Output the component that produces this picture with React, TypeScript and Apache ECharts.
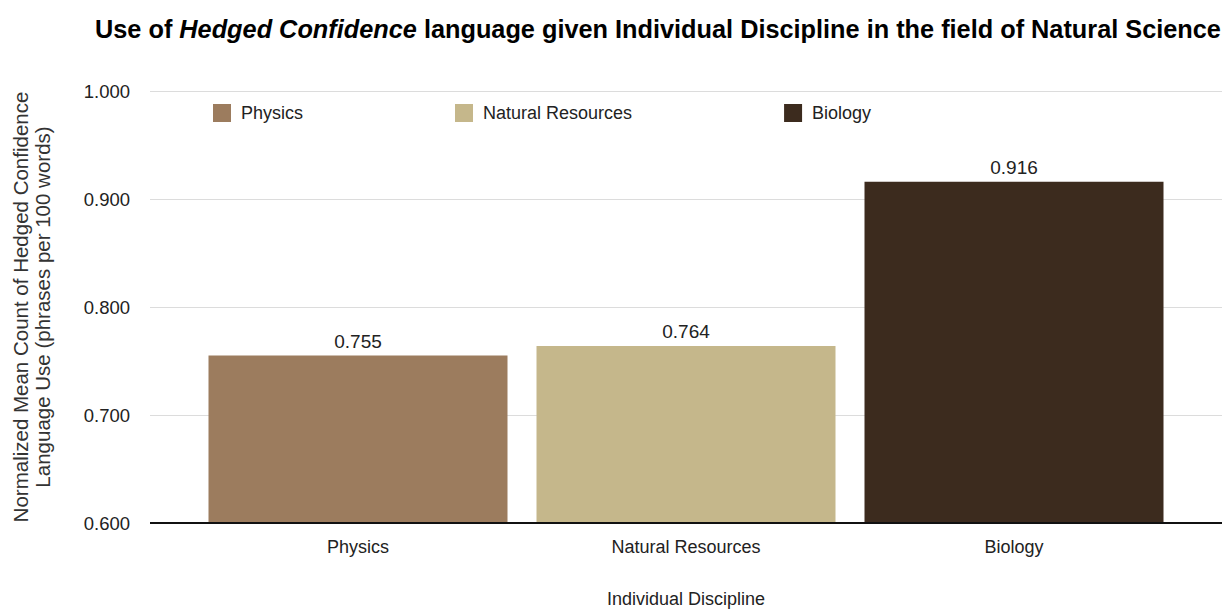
import React, { useEffect, useRef } from "react";
import * as echarts from "echarts";

const categories = ["Physics", "Natural Resources", "Biology"];
const values = [0.755, 0.764, 0.916];
const colors = ["#9C7C5E", "#C5B78B", "#3C2B1E"];

export default function App() {
  const ref = useRef<HTMLDivElement>(null);
  useEffect(() => {
    if (!ref.current) return;
    const chart = echarts.init(ref.current, null, { renderer: "svg" });
    const font = "Liberation Sans, Arial, sans-serif";
    const series = categories.map((c, i) => ({
      name: c,
      type: "bar",
      xAxisIndex: 1,
      yAxisIndex: 1,
      barWidth: 299,
      barGap: "-100%",
      itemStyle: { color: colors[i] },
      label: {
        show: true,
        position: "top",
        distance: 5,
        fontSize: 19,
        color: "#222",
        fontFamily: font,
        formatter: (p: any) => Number(p.value).toFixed(3),
      },
      data: categories.map((_, j) => (j === i ? values[i] : "-")),
    }));
    chart.setOption({
      animation: false,
      backgroundColor: "#fff",
      title: {
        text: "{b|Use of }{i|Hedged Confidence}{b| language given Individual Discipline in the field of Natural Science}",
        left: 95,
        top: 16,
        padding: 0,
        textStyle: {
          rich: {
            b: { fontSize: 25.3, fontWeight: "bold", color: "#000", fontFamily: font },
            i: { fontSize: 25.3, fontWeight: "bold", fontStyle: "italic", color: "#000", fontFamily: font },
          },
        },
      },
      legend: {
        left: 213,
        top: 104,
        padding: 0,
        itemWidth: 18,
        itemHeight: 18,
        itemGap: 152,
        icon: "rect",
        data: categories,
        textStyle: { fontSize: 18, color: "#222", fontFamily: font, padding: [0, 0, 0, 5] },
      },
      grid: [
        { left: 150, right: 6, top: 91, bottom: 87, containLabel: false, outerBoundsMode: "none" },
        { left: 194, right: 50, top: 91, bottom: 87, containLabel: false, outerBoundsMode: "none" },
      ],
      xAxis: [
        {
          gridIndex: 0,
          type: "value",
          min: 0,
          max: 1,
          show: false,
          splitLine: { show: false },
        },
        {
          gridIndex: 1,
          type: "category",
          data: categories,
          axisLine: { show: false },
          axisTick: { show: false },
          axisLabel: { fontSize: 18, color: "#222", fontFamily: font, margin: 15 },
        },
      ],
      yAxis: [
        {
          gridIndex: 0,
          type: "value",
          min: 0.6,
          max: 1.0,
          interval: 0.1,
          axisLine: { show: false },
          axisTick: { show: false },
          axisLabel: {
            fontSize: 18.5,
            color: "#222",
            fontFamily: font,
            margin: 20,
            formatter: (v: number) => v.toFixed(3),
          },
          splitLine: { lineStyle: { color: "#dcdcdc", width: 1 } },
        },
        {
          gridIndex: 1,
          type: "value",
          min: 0.6,
          max: 1.0,
          interval: 0.1,
          show: false,
          splitLine: { show: false },
        },
      ],
      graphic: [
        {
          type: "text",
          x: 31,
          y: 307,
          rotation: Math.PI / 2,
          style: {
            text: "Normalized Mean Count of Hedged Confidence\nLanguage Use (phrases per 100 words)",
            fontSize: 20.5,
            lineHeight: 22,
            fill: "#333",
            fontFamily: font,
            align: "center",
            verticalAlign: "middle",
          },
        },
        {
          type: "text",
          x: 686,
          y: 599,
          style: {
            text: "Individual Discipline",
            fontSize: 18,
            fill: "#222",
            fontFamily: font,
            align: "center",
            verticalAlign: "middle",
          },
        },
      ],
      series: [
        ...series,
        {
          type: "line",
          xAxisIndex: 0,
          yAxisIndex: 0,
          data: [
            [0, 0.6],
            [1, 0.6],
          ],
          symbol: "none",
          lineStyle: { color: "#111", width: 2 },
          silent: true,
          z: 5,
        },
      ],
    });
    return () => chart.dispose();
  }, []);
  return (
    <div
      ref={ref}
      style={{ position: "absolute", left: 0, top: 0, width: 1228, height: 610 }}
    />
  );
}
